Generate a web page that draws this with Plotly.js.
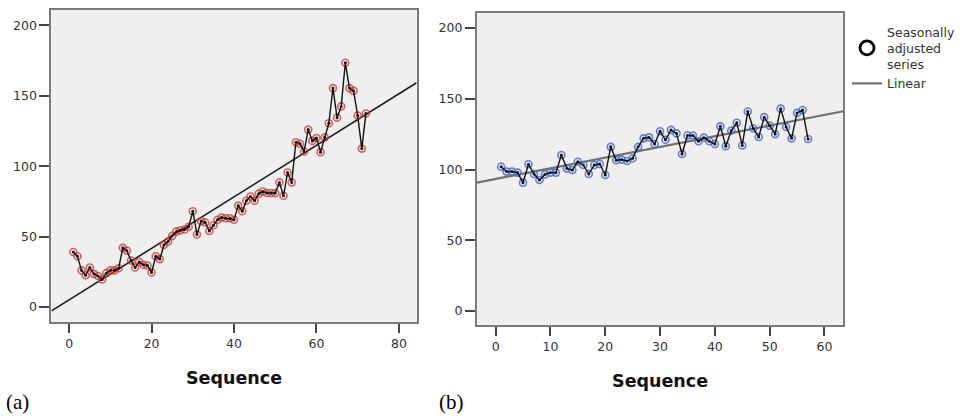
<!DOCTYPE html>
<html>
<head>
<meta charset="utf-8">
<script src="https://cdn.plot.ly/plotly-3.0.1.min.js"></script>
<style>html,body{margin:0;padding:0;background:#fff;}#chart{width:960px;height:416px;}</style>
</head>
<body>
<div id="chart"></div>
<script>
// ---- Data ----
const seqA = [1,2,3,4,5,6,7,8,9,10,11,12,13,14,15,16,17,18,19,20,21,22,23,24,25,26,27,28,29,30,31,32,33,34,35,36,37,38,39,40,41,42,43,44,45,46,47,48,49,50,51,52,53,54,55,56,57,58,59,60,61,62,63,64,65,66,67,68,69,70,71,72];
const seriesA = [39,36,26,22.5,28,23.5,22,19.5,24,26,26,27.5,42,40,33,28,32,30,29.5,24.5,36,34,44,46.5,50.5,53.5,54.5,55,57,68,51.5,61,60,54,58,62,63.5,63,63,62,72,68,75.5,78.5,75.5,80.5,82,81,81,81,88.5,79,95.5,88.5,117,116,110.5,126,118,120,110,120.5,130.5,155.5,134.5,142.5,173.5,155.5,153.5,136,112.5,137.5];

const seqB = [1,2,3,4,5,6,7,8,9,10,11,12,13,14,15,16,17,18,19,20,21,22,23,24,25,26,27,28,29,30,31,32,33,34,35,36,37,38,39,40,41,42,43,44,45,46,47,48,49,50,51,52,53,54,55,56,57];
const seriesB = [102,98.5,98.5,97.8,90.7,103.7,96.8,92.6,96.5,97.8,97.8,110.2,100.8,99.6,105.5,103.2,96.8,103.2,103.9,96.1,116,106.5,107,106,108,116,122,122.7,118,127,121,128,125.5,111,124,124,120,122.5,120,118,130.5,116.5,127.5,133,117,141,129,123,137,131,125,143,130,122,140,142,121.5];

const xTicksA = [0,20,40,60,80];
const xTicksB = [0,10,20,30,40,50,60];
const yTicks = [0,50,100,150,200];
const legendNames = ['Seasonally<br>adjusted<br>series', 'Linear'];
const axisTitle = 'Sequence';
const panelLabels = ['(a)', '(b)'];

// ---- Layout constants ----
const rangeXA = [-4.3, 84.3], rangeYA = [-10.7, 211];
const rangeXB = [-3.4, 63.4], rangeYB = [-9.9, 210.6];
const FONT = 'DejaVu Sans';

function ols(x, y) {
  const n = x.length;
  let mx = 0, my = 0;
  for (let i = 0; i < n; i++) { mx += x[i]; my += y[i]; }
  mx /= n; my /= n;
  let sxy = 0, sxx = 0;
  for (let i = 0; i < n; i++) { sxy += (x[i]-mx)*(y[i]-my); sxx += (x[i]-mx)*(x[i]-mx); }
  const b = sxy / sxx;
  return { a: my - b*mx, b: b };
}
const fitA = ols(seqA, seriesA);
const fitB = ols(seqB, seriesB);

const traces = [
  // panel (a)
  { x: rangeXA, y: rangeXA.map(v => fitA.a + fitA.b*v), xaxis:'x', yaxis:'y', mode:'lines',
    line:{color:'#1c1c1c', width:1.6}, showlegend:false, hoverinfo:'skip' },
  { x: seqA, y: seriesA, xaxis:'x', yaxis:'y', mode:'markers',
    marker:{symbol:'circle-open', size:7, color:'rgba(200,50,50,0.75)', line:{width:1.6}}, showlegend:false },
  { x: seqA, y: seriesA, xaxis:'x', yaxis:'y', mode:'lines+markers',
    line:{color:'#111', width:1.4}, marker:{size:3, color:'#111'}, showlegend:false },
  // panel (b)
  { x: rangeXB, y: rangeXB.map(v => fitB.a + fitB.b*v), xaxis:'x2', yaxis:'y2', mode:'lines',
    line:{color:'#707070', width:2.2}, showlegend:false, hoverinfo:'skip' },
  { x: seqB, y: seriesB, xaxis:'x2', yaxis:'y2', mode:'markers',
    marker:{symbol:'circle-open', size:7, color:'rgba(80,105,200,0.85)', line:{width:1.6}}, showlegend:false },
  { x: seqB, y: seriesB, xaxis:'x2', yaxis:'y2', mode:'lines+markers',
    line:{color:'#111', width:1.4}, marker:{size:3, color:'#111'}, showlegend:false },
  // legend entries
  { x:[null], y:[null], xaxis:'x2', yaxis:'y2', mode:'markers', name: legendNames[0],
    marker:{symbol:'circle-open', size:14, color:'#000', line:{width:2.8}}, showlegend:true },
  { x:[null], y:[null], xaxis:'x2', yaxis:'y2', mode:'lines', name: legendNames[1],
    line:{color:'#707070', width:2.2}, showlegend:true }
];

function xAxis(domain, range, ticks, anchor) {
  return {
    domain: domain, range: range, anchor: anchor, tickmode:'array', tickvals: ticks,
    ticks:'outside', ticklen:9, tickwidth:2, tickcolor:'#444',
    showline:true, linecolor:'#7a7a7a', linewidth:2, mirror:true,
    showgrid:false, zeroline:false,
    tickfont:{family:FONT, size:12.5, color:'#333'},
    title:{text:axisTitle, font:{family:FONT, size:17.5, color:'#111', weight:'bold'}, standoff:22}
  };
}
function yAxis(domain, range, anchor) {
  return {
    domain: domain, range: range, anchor: anchor, tickmode:'array', tickvals: yTicks,
    ticks:'outside', ticklen:10, tickwidth:2, tickcolor:'#444',
    showline:true, linecolor:'#7a7a7a', linewidth:2, mirror:true,
    showgrid:false, zeroline:false,
    tickfont:{family:FONT, size:12.5, color:'#333'}
  };
}

const layout = {
  width:960, height:416,
  margin:{l:0, r:0, t:0, b:0},
  paper_bgcolor:'#ffffff', plot_bgcolor:'#efefef',
  xaxis: xAxis([52/960, 421/960], rangeXA, xTicksA, 'y'),
  yaxis: yAxis([1-322/416, 1-10/416], rangeYA, 'x'),
  xaxis2: xAxis([482/960, 852/960], rangeXB, xTicksB, 'y2'),
  yaxis2: yAxis([1-325/416, 1-13/416], rangeYB, 'x2'),
  showlegend:true,
  legend:{x:856/960, xanchor:'left', y:1-17/416, yanchor:'top', bgcolor:'rgba(0,0,0,0)',
    font:{family:FONT, size:12.5, color:'#333'}, traceorder:'normal', itemwidth:30},
  annotations:[
    {text:panelLabels[0], xref:'paper', yref:'paper', x:4/960, y:0, xanchor:'left', yanchor:'bottom',
     showarrow:false, font:{family:'Liberation Serif', size:21, color:'#000'}},
    {text:panelLabels[1], xref:'paper', yref:'paper', x:442/960, y:0, xanchor:'left', yanchor:'bottom',
     showarrow:false, font:{family:'Liberation Serif', size:21, color:'#000'}}
  ]
};

Plotly.newPlot('chart', traces, layout, {staticPlot:true, displayModeBar:false});
</script>
</body>
</html>
